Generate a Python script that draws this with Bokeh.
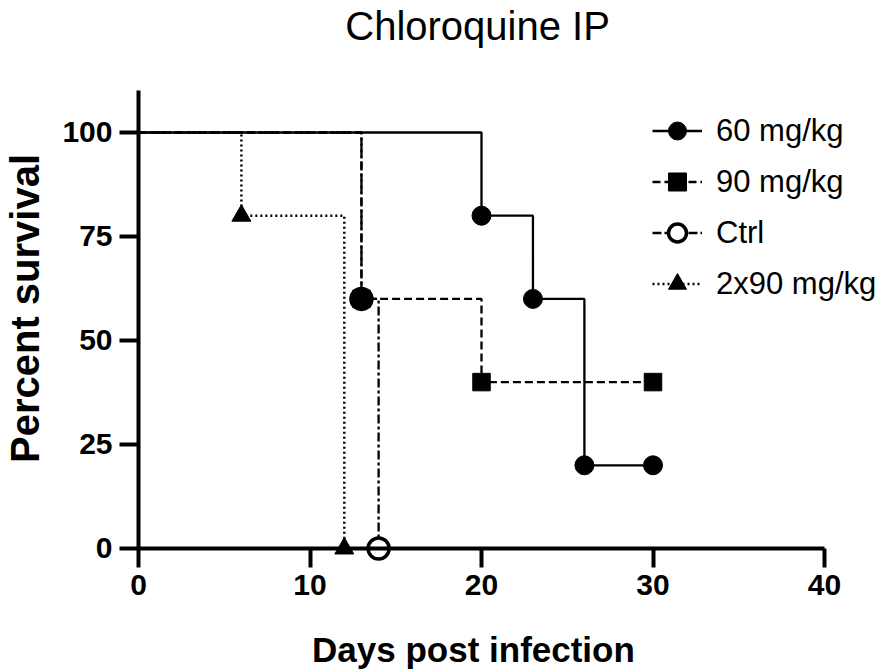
import math
from bokeh.plotting import figure
from bokeh.models import Range1d, Legend, LegendItem, FixedTicker, Label
from bokeh.embed import file_html
from bokeh.resources import INLINE

# ---- data ----
days_60 = [0, 20, 23, 26, 30]
surv_60 = [100, 80, 60, 20, 20]
days_90 = [0, 13, 20, 30]
surv_90 = [100, 60, 40, 40]
days_ctrl = [0, 13, 14]
surv_ctrl = [100, 60, 0]
days_2x90 = [0, 6, 12]
surv_2x90 = [100, 80, 0]
x_ticks = [0, 10, 20, 30, 40]
y_ticks = [0, 25, 50, 75, 100]
labels = ["60 mg/kg", "90 mg/kg", "Ctrl", "2x90 mg/kg"]

FONT = "Liberation Sans"

# The frame covers the whole canvas so that nothing is clipped;
# the axes are pinned at x=0 / y=0.
p = figure(width=886, height=670, output_backend="svg", toolbar_location=None,
           x_range=Range1d(-8.047, 43.615), y_range=Range1d(-29.33, 131.73),
           min_border_left=0, min_border_right=0, min_border_top=0,
           min_border_bottom=0)

p.grid.visible = False
p.outline_line_color = None
p.background_fill_color = "white"

for ax in (p.xaxis[0], p.yaxis[0]):
    ax.axis_line_width = 4
    ax.major_tick_line_width = 4
    ax.major_tick_in = 0
    ax.major_tick_out = 19
    ax.minor_tick_line_color = None
    ax.major_label_text_font = FONT
    ax.major_label_text_font_size = "30px"
    ax.major_label_text_font_style = "bold"
    ax.major_label_text_color = "black"
    ax.axis_line_color = "black"
    ax.major_tick_line_color = "black"

p.xaxis.fixed_location = 0
p.yaxis.fixed_location = 0
p.xaxis.bounds = (0, 40)
p.yaxis.bounds = (0, 110)
p.xaxis.ticker = FixedTicker(ticks=x_ticks)
p.yaxis.ticker = FixedTicker(ticks=y_ticks)
p.xaxis.major_label_standoff = 8
p.yaxis.major_label_standoff = 7

# ---- titles ----
p.add_layout(Label(x=19.77, y=125.7, text="Chloroquine IP", text_font=FONT,
                   text_font_size="40px", text_color="black",
                   text_align="center", text_baseline="alphabetic"))
p.add_layout(Label(x=19.53, y=-24.3, text="Days post infection", text_font=FONT,
                   text_font_size="35px", text_font_style="bold",
                   text_color="black", text_align="center",
                   text_baseline="alphabetic"))
p.add_layout(Label(x=-6.62, y=57.7, text="Percent survival", text_font=FONT,
                   text_font_size="40px", text_font_style="bold",
                   text_color="black", text_align="center",
                   text_baseline="alphabetic", angle=math.pi / 2))

# ---- series ----
l_ctrl = p.step(days_ctrl, surv_ctrl, mode="after", line_color="black",
                line_width=2.3, line_dash="9 3 3 3")
l_2x = p.step(days_2x90, surv_2x90, mode="after", line_color="black",
              line_width=2.5, line_dash="2 3")
l_90 = p.step(days_90, surv_90, mode="after", line_color="black",
              line_width=2.3, line_dash="8 4")
l_60 = p.step(days_60, surv_60, mode="after", line_color="black", line_width=2.3)

m_ctrl = p.scatter(days_ctrl[1:], surv_ctrl[1:], marker="circle", size=21,
                   fill_color="white", line_color="black", line_width=3.5)
m_90 = p.scatter(days_90[1:], surv_90[1:], marker="square", size=17.5,
                 fill_color="black", line_color="black")
m_60 = p.scatter(days_60[1:], surv_60[1:], marker="circle", size=19,
                 fill_color="black", line_color="black")
m_2x = p.scatter(days_2x90[1:], surv_2x90[1:], marker="triangle", size=19,
                 fill_color="black", line_color="black")

legend = Legend(items=[
    LegendItem(label=labels[0], renderers=[l_60, m_60]),
    LegendItem(label=labels[1], renderers=[l_90, m_90]),
    LegendItem(label=labels[2], renderers=[l_ctrl, m_ctrl]),
    LegendItem(label=labels[3], renderers=[l_2x, m_2x]),
], location=(652, 364), glyph_width=50, glyph_height=45, spacing=6,
   padding=0, margin=0, label_standoff=14,
   label_text_font=FONT, label_text_font_size="31px", label_text_color="black",
   border_line_color=None, background_fill_alpha=0)
p.add_layout(legend)

open("out.html", "w").write(file_html(p, INLINE))
